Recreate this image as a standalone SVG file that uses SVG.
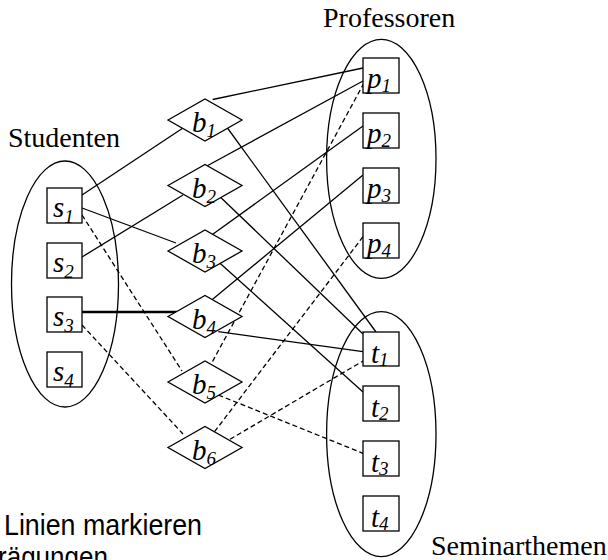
<svg xmlns="http://www.w3.org/2000/svg" width="608" height="560" viewBox="0 0 608 560">
  <style>
    .set { fill: none; stroke: #000; stroke-width: 1.3; }
    .box { fill: #fff; stroke: #000; stroke-width: 1.3; }
    .rel { fill: #fff; stroke: #000; stroke-width: 1.3; }
    .lbl { font-family: "Liberation Serif", "Times New Roman", serif; font-size: 28px; fill: #000; }
    .var { font-family: "Liberation Serif", "Times New Roman", serif; font-style: italic; font-size: 29px; fill: #000; }
    .sub { font-size: 19px; }
    .note { font-family: "Liberation Sans", Arial, sans-serif; font-size: 29px; fill: #000; }
    .edge { stroke: #000; stroke-width: 1.3; fill: none; }
    .dash { stroke-dasharray: 5 3; }
    .bold { stroke-width: 2.6; }
  </style>

  <!-- set outlines and titles -->
  <g id="set-studenten">
    <ellipse class="set" cx="65" cy="284" rx="53.5" ry="123"/>
    <text class="lbl" x="8" y="147">Studenten</text>
  </g>
  <g id="set-professoren">
    <ellipse class="set" cx="381.3" cy="158.8" rx="54.7" ry="119.5"/>
    <text class="lbl" x="323" y="27">Professoren</text>
  </g>
  <g id="set-seminarthemen">
    <ellipse class="set" cx="381.3" cy="434.2" rx="54.7" ry="122.5"/>
    <text class="lbl" x="431" y="555" font-size="27.5">Seminarthemen</text>
  </g>

  <!-- connectors -->
  <g id="connectors">
    <line class="edge" x1="82" y1="195" x2="183" y2="128"/>
    <line class="edge" x1="82" y1="208" x2="176" y2="243"/>
    <line class="edge" x1="82" y1="257" x2="183" y2="195"/>
    <line class="edge bold" x1="82" y1="312" x2="177" y2="312"/>
    <line class="edge" x1="212.7" y1="99.5" x2="363" y2="68"/>
    <line class="edge" x1="205" y1="167" x2="363" y2="81"/>
    <line class="edge" x1="211.7" y1="235" x2="363" y2="126"/>
    <line class="edge" x1="211.7" y1="300" x2="363" y2="175"/>
    <line class="edge" x1="226.7" y1="127" x2="376" y2="332"/>
    <line class="edge" x1="220" y1="196.7" x2="363" y2="334"/>
    <line class="edge" x1="220" y1="263.3" x2="363" y2="392"/>
    <line class="edge" x1="218.3" y1="331.7" x2="363" y2="351.7"/>
    <line class="edge dash" x1="82" y1="215" x2="182" y2="371"/>
    <line class="edge dash" x1="82" y1="325" x2="183" y2="434"/>
    <line class="edge dash" x1="364" y1="83" x2="211.7" y2="363"/>
    <line class="edge dash" x1="363" y1="236.7" x2="213.3" y2="433.3"/>
    <line class="edge dash" x1="218.3" y1="395" x2="363" y2="453.3"/>
    <line class="edge dash" x1="230" y1="439.3" x2="363" y2="361"/>
  </g>

  <!-- students -->
  <g id="s1"><rect class="box" x="47" y="188" width="35" height="35"/><text class="var" x="53" y="217">s<tspan class="sub" dy="6">1</tspan></text></g>
  <g id="s2"><rect class="box" x="47" y="243" width="35" height="35"/><text class="var" x="53" y="272">s<tspan class="sub" dy="6">2</tspan></text></g>
  <g id="s3"><rect class="box" x="47" y="297" width="35" height="35"/><text class="var" x="53" y="326">s<tspan class="sub" dy="6">3</tspan></text></g>
  <g id="s4"><rect class="box" x="47" y="352" width="35" height="35"/><text class="var" x="53" y="381">s<tspan class="sub" dy="6">4</tspan></text></g>

  <!-- relationship diamonds -->
  <g id="b1"><polygon class="rel" points="168,120 205,99 242,120 205,141"/><text class="var" x="192" y="132">b<tspan class="sub" dy="5">1</tspan></text></g>
  <g id="b2"><polygon class="rel" points="168,185.5 205,164.5 242,185.5 205,206.5"/><text class="var" x="192" y="197.5">b<tspan class="sub" dy="5">2</tspan></text></g>
  <g id="b3"><polygon class="rel" points="168,251 205,230 242,251 205,272"/><text class="var" x="192" y="263">b<tspan class="sub" dy="5">3</tspan></text></g>
  <g id="b4"><polygon class="rel" points="168,316.5 205,295.5 242,316.5 205,337.5"/><text class="var" x="192" y="328.5">b<tspan class="sub" dy="5">4</tspan></text></g>
  <g id="b5"><polygon class="rel" points="168,382 205,361 242,382 205,403"/><text class="var" x="192" y="394">b<tspan class="sub" dy="5">5</tspan></text></g>
  <g id="b6"><polygon class="rel" points="168,447.5 205,426.5 242,447.5 205,468.5"/><text class="var" x="192" y="459.5">b<tspan class="sub" dy="5">6</tspan></text></g>

  <!-- professors -->
  <g id="p1"><rect class="box" x="363" y="58" width="36" height="35"/><text class="var" x="367" y="88">p<tspan class="sub" dy="4">1</tspan></text></g>
  <g id="p2"><rect class="box" x="363" y="113" width="36" height="35"/><text class="var" x="367" y="143">p<tspan class="sub" dy="4">2</tspan></text></g>
  <g id="p3"><rect class="box" x="363" y="168" width="36" height="35"/><text class="var" x="367" y="198">p<tspan class="sub" dy="4">3</tspan></text></g>
  <g id="p4"><rect class="box" x="363" y="223" width="36" height="35"/><text class="var" x="367" y="253">p<tspan class="sub" dy="4">4</tspan></text></g>

  <!-- seminar topics -->
  <g id="t1"><rect class="box" x="363" y="332" width="36" height="34"/><text class="var" x="371" y="363">t<tspan class="sub" dy="3">1</tspan></text></g>
  <g id="t2"><rect class="box" x="363" y="386" width="36" height="35"/><text class="var" x="371" y="417">t<tspan class="sub" dy="3">2</tspan></text></g>
  <g id="t3"><rect class="box" x="363" y="441" width="36" height="35"/><text class="var" x="371" y="472">t<tspan class="sub" dy="3">3</tspan></text></g>
  <g id="t4"><rect class="box" x="363" y="496" width="36" height="35"/><text class="var" x="371" y="527">t<tspan class="sub" dy="3">4</tspan></text></g>

  <!-- caption -->
  <g id="caption">
    <text class="note" x="4" y="535" textLength="198" lengthAdjust="spacingAndGlyphs">Linien markieren</text>
    <text class="note" x="-2" y="567" textLength="110" lengthAdjust="spacingAndGlyphs">rägungen</text>
  </g>
</svg>
